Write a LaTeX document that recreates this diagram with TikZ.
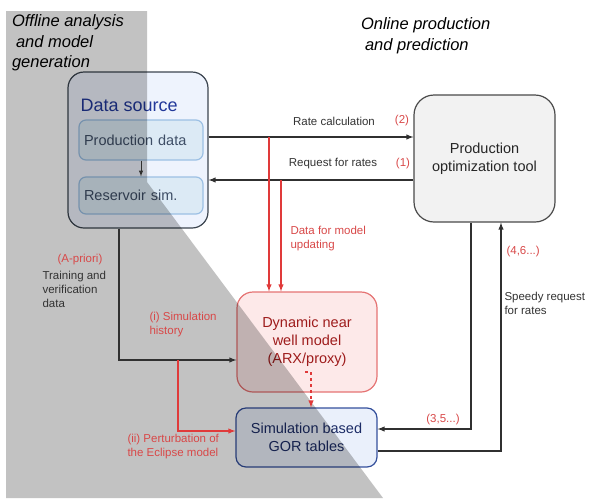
\documentclass[tikz,border=0pt]{standalone}
\usepackage{fontspec}
\setmainfont{Liberation Sans}
\definecolor{linegray}{HTML}{303030}
\definecolor{linered}{HTML}{E03A3A}
\definecolor{labelred}{HTML}{D84848}
\definecolor{labelgray}{HTML}{333333}
\definecolor{srcfill}{HTML}{EEF3FD}
\definecolor{srcborder}{HTML}{3C4550}
\definecolor{srctext}{HTML}{22389A}
\definecolor{subfill}{HTML}{DCEAF5}
\definecolor{subborder}{HTML}{9CC0E4}
\definecolor{subtext}{HTML}{3E4E66}
\definecolor{optfill}{HTML}{F2F2F2}
\definecolor{optborder}{HTML}{4A4A4A}
\definecolor{dynfill}{HTML}{FDE9E9}
\definecolor{dynborder}{HTML}{E57373}
\definecolor{dyntext}{HTML}{9E1C1C}
\definecolor{gorfill}{HTML}{EAF0FB}
\definecolor{gorborder}{HTML}{34509C}
\definecolor{gortext}{HTML}{1C2C66}
\begin{document}
\begin{tikzpicture}[
    x=1pt, y=-1pt,
    every node/.style={font=\fontsize{11.5}{14}\selectfont, align=left, text=labelgray},
    conn/.style={draw=linegray, line width=1.4pt, -latex},
    redconn/.style={draw=linered, line width=1.4pt, -latex},
    redlabel/.style={text=labelred},
    mainbox/.style={draw, line width=1.2pt, rounded corners=16pt, align=center, font=\fontsize{14.5}{18}\selectfont},
    subbox/.style={draw=subborder, fill=subfill, line width=1.2pt, rounded corners=7pt, minimum width=124pt, text width=114pt, align=left, text=subtext, font=\fontsize{14.5}{17}\selectfont},
    zone/.style={fill=black, opacity=0.24},
    title/.style={font=\fontsize{16.5}{20.5}\selectfont\itshape, text=black, align=left}
]
\useasboundingbox (0,0) rectangle (589,499);

\node[mainbox, draw=srcborder, fill=srcfill, minimum width=140pt, minimum height=156pt] (src) at (138,150) {};
\node[anchor=west, text=srctext, font=\fontsize{18}{20}\selectfont] (srctitle) at (77,105) {Data source};
\node[subbox, minimum height=40pt] (prod) at (141,140) {Production data};
\node[subbox, minimum height=37pt] (res) at (141,195.5) {Reservoir sim.};
\node[mainbox, draw=optborder, fill=optfill, text=black!85, minimum width=141pt, minimum height=127pt, rounded corners=20pt] (opt) at (484.5,158.5) {Production\\optimization tool};
\node[mainbox, draw=dynborder, fill=dynfill, text=dyntext, minimum width=140pt, minimum height=100pt] (dyn) at (307,342) {Dynamic near\\well model\\(ARX/proxy)};
\node[mainbox, draw=gorborder, fill=gorfill, text=gortext, minimum width=141pt, minimum height=59pt, rounded corners=10pt] (gor) at (306.5,437.5) {Simulation based\\GOR tables};

\fill[zone] (6,11) -- (147,11) -- (147,182) -- (383,498) -- (6,498) -- cycle;

\coordinate (u1) at (269,137);
\coordinate (u2) at (281,180);
\coordinate (hist) at (119,360);
\coordinate (pert) at (178,431);
\coordinate (dsh) at (311,372);
\coordinate (c35) at (471,429);
\coordinate (c46) at (501,451);

\draw[conn, line width=1pt] (prod.south) -- (res.north);
\draw[conn] (src.east |- u1) -- (opt.west |- u1);
\draw[conn] (opt.west |- u2) -- (src.east |- u2);
\draw[redconn] (u1) -- (u1 |- dyn.north);
\draw[redconn] (u2) -- (u2 |- dyn.north);
\draw[conn] (src.south -| hist) -- (hist) -- (hist -| dyn.west);
\draw[redconn] (pert |- hist) -- (pert) -- (pert -| gor.west);
\draw[redconn, dashed] ([xshift=-6pt]dsh) -- (dsh) -- (dsh |- gor.north);
\draw[conn] (opt.south -| c35) -- (c35) -- (c35 -| gor.east);
\draw[conn] (c46 -| gor.east) -- (c46) -- (c46 |- opt.south);

\node (ratecalc) at (334,121) {Rate calculation};
\node[redlabel] (n2) at (402,121) {(2)};
\node (ratereq) at (333,164) {Request for rates};
\node[redlabel] (n1) at (403,164) {(1)};
\node[redlabel, anchor=west] (update) at (287,238.5) {Data for model\\updating};
\node[redlabel] (apriori) at (80,260) {(A-priori)};
\node[anchor=west] (training) at (39,289) {Training and\\verification\\data};
\node[redlabel, anchor=west] (simhist) at (146,325) {(i) Simulation\\history};
\node[redlabel, anchor=west] (perturb) at (124,447) {(ii) Perturbation of\\the Eclipse model};
\node[redlabel] (n35) at (443,420) {(3,5...)};
\node[redlabel, anchor=west] (n46) at (503,252) {(4,6...)};
\node[anchor=west] (speedy) at (501,303) {Speedy request\\for rates};

\node[title, anchor=west] (offline) at (8.5,43) {Offline analysis\\\hspace*{4pt}and model\\generation};
\node[title, anchor=west] (online) at (357.5,35.5) {Online production\\\hspace*{4pt}and prediction};
\end{tikzpicture}
\end{document}
